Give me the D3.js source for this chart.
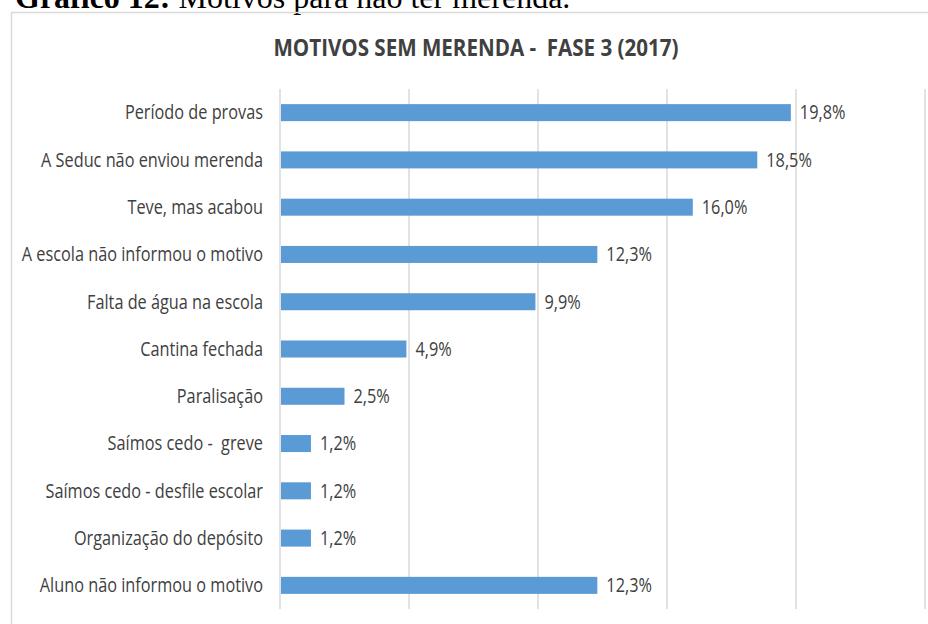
<!DOCTYPE html>
<html>
<head>
<meta charset="utf-8">
<script src="https://cdn.jsdelivr.net/npm/d3@7"></script>
<style>
  body { margin: 0; background: #fff; }
  svg { display: block; }
  text { white-space: pre; }
</style>
</head>
<body>
<div class="chart"></div>
<script>
// data
var categories = [
  "Período de provas",
  "A Seduc não enviou merenda",
  "Teve, mas acabou",
  "A escola não informou o motivo",
  "Falta de água na escola",
  "Cantina fechada",
  "Paralisação",
  "Saímos cedo -  greve",
  "Saímos cedo - desfile escolar",
  "Organização do depósito",
  "Aluno não informou o motivo"
];
var values = [19.8, 18.5, 16.0, 12.3, 9.9, 4.9, 2.5, 1.2, 1.2, 1.2, 12.3];
var valueLabels = ["19,8%", "18,5%", "16,0%", "12,3%", "9,9%", "4,9%", "2,5%", "1,2%", "1,2%", "1,2%", "12,3%"];
var xTicks = [0, 5, 10, 15, 20, 25];

var chartTitle = "MOTIVOS SEM MERENDA -  FASE 3 (2017)";

var w = 928, h = 624;
var sx = 0.835; // the picture is squeezed sideways
var sansFont = "'Open Sans', 'Noto Sans', sans-serif";

var svg = d3.select("div.chart")
            .append("svg")
            .attr("width", w)
            .attr("height", h);

var x = d3.scaleLinear()
          .domain([0, 25])
          .range([280, 925]);

var y = d3.scaleBand()
          .domain(categories)
          .range([89, 609])
          .paddingInner(0.64)
          .paddingOuter(0.32);

//document caption, cut off at the top
var cap = svg.append("text")
    .attr("x", 15)
    .attr("y", 8)
    .attr("font-family", "'Liberation Serif', 'Times New Roman', serif")
    .attr("font-size", 32)
    .attr("fill", "#000");
cap.append("tspan").attr("font-weight", "bold").text("Gráfico 12:");
cap.append("tspan").text(" Motivos para não ter merenda.");

//chart frame
svg.append("rect")
    .attr("x", 11.5)
    .attr("y", 12.5)
    .attr("width", 930)
    .attr("height", 640)
    .attr("fill", "none")
    .attr("stroke", "#d9d9d9")
    .attr("stroke-width", 1.5);

//title
svg.append("text")
    .attr("transform", "translate(476,56) scale(0.915,1)")
    .attr("text-anchor", "middle")
    .attr("font-family", sansFont)
    .attr("font-weight", "bold")
    .attr("font-size", 22.5)
    .attr("fill", "#404040")
    .text(chartTitle);

//gridlines
svg.append("g")
    .attr("class", "grid")
    .selectAll("line")
    .data(xTicks)
    .enter()
    .append("line")
    .attr("x1", function(d){ return x(d); })
    .attr("x2", function(d){ return x(d); })
    .attr("y1", y.range()[0])
    .attr("y2", y.range()[1])
    .attr("stroke", "#d9d9d9")
    .attr("stroke-width", 1.5);

//bars
svg.selectAll(".bar")
    .data(values)
    .enter()
    .append("rect")
    .attr("class", "bar")
    .attr("x", x(0) + 1)
    .attr("y", function(d, i){ return y(categories[i]); })
    .attr("width", function(d){ return x(d) - x(0) - 1; })
    .attr("height", y.bandwidth())
    .attr("fill", "#5b9bd5");

//category labels
svg.selectAll(".cat")
    .data(categories)
    .enter()
    .append("text")
    .attr("class", "cat")
    .attr("transform", function(d){
      return "translate(" + (x(0) - 17) + "," + (y(d) + y.bandwidth() / 2) + ") scale(" + sx + ",1)";
    })
    .attr("dy", "0.35em")
    .attr("text-anchor", "end")
    .attr("font-family", sansFont)
    .attr("font-size", 19.5)
    .attr("fill", "#404040")
    .text(function(d){ return d; });

//value labels
svg.selectAll(".val")
    .data(values)
    .enter()
    .append("text")
    .attr("class", "val")
    .attr("transform", function(d, i){
      return "translate(" + (x(d) + 9) + "," + (y(categories[i]) + y.bandwidth() / 2) + ") scale(" + sx + ",1)";
    })
    .attr("dy", "0.35em")
    .attr("font-family", sansFont)
    .attr("font-size", 19.5)
    .attr("fill", "#404040")
    .text(function(d, i){ return valueLabels[i]; });
</script>
</body>
</html>
